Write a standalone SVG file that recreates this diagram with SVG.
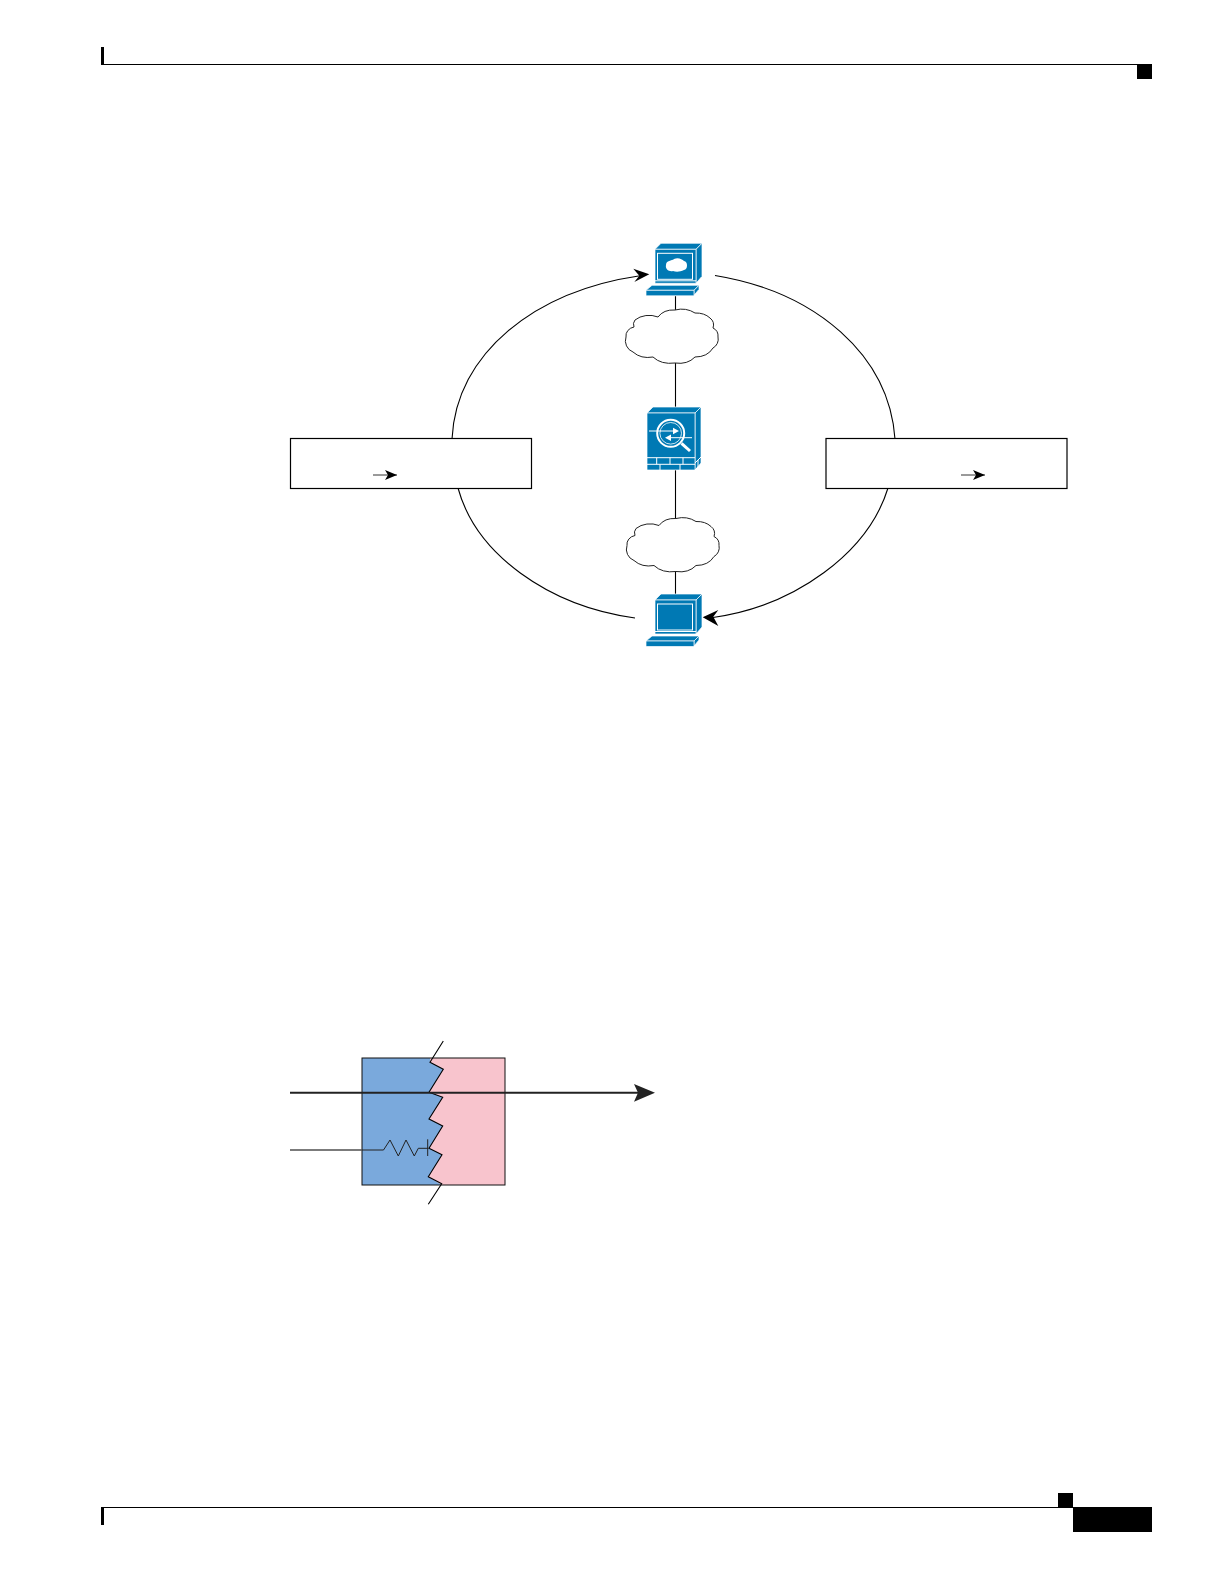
<svg xmlns="http://www.w3.org/2000/svg" width="1222" height="1584" viewBox="0 0 1222 1584">
<style>
.b{fill:#000}
.w{fill:none;stroke:#000;stroke-width:1.100}
.f{fill:#0079b4;stroke:#fff;stroke-width:.7;stroke-linejoin:round}
.l{fill:none;stroke:#fff;stroke-width:1}
.cl{fill:#fff;stroke:#222;stroke-width:1}
.box{fill:#fff;stroke:#000;stroke-width:1.200}
</style>
<defs>
<marker id="small" markerUnits="userSpaceOnUse" markerWidth="14" markerHeight="14" refX="12" refY="7" orient="auto"><path d="M0 2 L12 7 L0 12 L3 7 Z" fill="#000"/></marker>
<g id="pc">
<polygon class="f" points="9,6 15,0 56,0 50,6"/>
<polygon class="f" points="50,6 56,0 56,33 50,40"/>
<rect class="f" x="9" y="6" width="41" height="34"/>
<line class="l" x1="9" y1="37.500" x2="50" y2="37.500"/>
<rect class="l" x="11.500" y="10" width="35" height="26"/>
<polygon class="f" points="0,47 6,42 53,42 48,47"/>
<polygon class="f" points="48,47 53,42 53,46 48,52"/>
<rect class="f" x="0" y="47" width="48" height="5.500"/>
</g>
<path id="cloud" class="cl" d="M9 10 A20 16 0 0 1 32 7 A18 14 0 0 1 49 0 A22 18 0 0 1 69 3 A18 13 0 0 1 84 8 A9 9 0 0 1 87 18 A9 9 0 0 1 92 27 A10 10 0 0 1 87 38 A20 16 0 0 1 69 47 A20 15 0 0 1 49 53 A22 15 0 0 1 27 47 A20 15 0 0 1 7 42 A12 12 0 0 1 0 27 A10 9 0 0 1 8 17 A7 7 0 0 1 9 10 Z"/>
</defs>
<rect width="1222" height="1584" fill="#fff"/>
<g id="page-furniture">
<rect class="b" x="101" y="47" width="3" height="18"/>
<rect class="b" x="101" y="64" width="1036" height="1"/>
<rect class="b" x="1137" y="64" width="15" height="15"/>
<rect class="b" x="101" y="1507" width="972" height="1"/>
<rect class="b" x="101" y="1507" width="3" height="18"/>
<rect class="b" x="1058" y="1493" width="15" height="14"/>
<rect class="b" x="1073" y="1507" width="79" height="25"/>
</g>
<g id="connectors">
<path class="w" d="M452 439 C456 353 535 291 640 275.700"/>
<polygon points="649.300,274.300 633.300,268.800 639.300,275.700 634.300,282" fill="#000"/>
<path class="w" d="M715 275.500 C816 292 889 355 895 439"/>
<path class="w" d="M458 488 C476 554 548 606 635 618"/>
<path class="w" d="M888 488 C868 553 795 606 713 617.500"/>
<polygon points="702.700,617.300 718.300,610 713.300,616.700 718.300,626" fill="#000"/>
<path class="w" d="M675.500 296 V312 M675.500 362 V408 M675.500 470 V519 M675.500 571 V594"/>
</g>
<g id="node-top-computer">
<use href="#pc" x="646" y="243.300"/>
<path fill="#fff" d="M666 265 C666 260 672 261 674 259 C678 257 682 259 684 261 C688 261 688 270 684 270 C680 272 676 272 673 271 C669 272 665 269 666 265 Z"/>
</g>
<use id="cloud-top" href="#cloud" x="626" y="310"/>
<g id="node-firewall">
<polygon class="f" points="647,413 653,407 701,407 695,413"/>
<polygon class="f" points="695,413 701,407 701,463 695,470"/>
<rect class="f" x="647" y="413" width="48" height="57"/>
<path class="l" d="M647 457.700 H695 M647 464.300 H695 M656.700 457.700 V464.300 M670 457.700 V464.300 M683 457.700 V464.300 M660 464.300 V470 M680 464.300 V470 M695 463 L701 457 M695 470 L698 467 M698 460 V467"/>
<circle cx="670.700" cy="433.300" r="13.500" fill="none" stroke="#fff" stroke-width="2"/>
<circle cx="670.700" cy="433.300" r="10.800" fill="none" stroke="#fff" stroke-width=".8"/>
<path d="M681.500 443.300 L690 451" stroke="#fff" stroke-width="3" fill="none"/>
<path d="M649 431 H675 M692 437.700 H668" stroke="#fff" stroke-width="1" fill="none"/>
<path d="M673 427.800 L679 431 L673 434.200 Z M671 434.500 L665 437.700 L671 440.900 Z" fill="#fff"/>
</g>
<use id="cloud-bottom" href="#cloud" x="627" y="518.500"/>
<g id="node-bottom-computer">
<use href="#pc" x="646" y="594"/>
</g>
<g id="node-left-box">
<rect class="box" x="290.500" y="438.500" width="241" height="50"/>
<line x1="373" y1="475" x2="397" y2="475" stroke="#000" stroke-width=".8" marker-end="url(#small)"/>
</g>
<g id="node-right-box">
<rect class="box" x="826" y="438.500" width="241" height="50"/>
<line x1="961" y1="475" x2="985" y2="475" stroke="#000" stroke-width=".8" marker-end="url(#small)"/>
</g>
<g id="node-layers">
<rect x="362" y="1058" width="143" height="127" fill="#7aa9dc"/>
<polygon points="430,1058 505,1058 505,1185 441.700,1185 428.300,1176.700 442,1154.700 429,1148.300 442.700,1126 429,1119 442.700,1097.300 429,1092.300 443.300,1069.300 430,1062.300" fill="#f8c4cd"/>
<rect x="362" y="1058" width="143" height="127" fill="none" stroke="#111" stroke-width="1"/>
<path class="w" d="M443.300 1041 L430 1062.300 L443.300 1069.300 L429 1092.300 L442.700 1097.300 L429 1119 L442.700 1126 L429 1148.300 L442 1154.700 L428.300 1176.700 L441.700 1183.700 L428.300 1204.300"/>
</g>
<g id="layer-connectors">
<line x1="290" y1="1092.700" x2="640" y2="1092.700" stroke="#222" stroke-width="2"/>
<path d="M634 1084 L655 1092.700 L634 1101.700 L638 1092.700 Z" fill="#222"/>
<path d="M290 1150 H383.500 L390 1140 L398.300 1156 L406 1140 L414.300 1156 L418.300 1148.300 H428.300" fill="none" stroke="#222" stroke-width="1"/>
<line x1="290" y1="1150" x2="362" y2="1150" stroke="#666" stroke-width="1.200"/>
<line x1="427.700" y1="1139.300" x2="427.700" y2="1156" stroke="#222" stroke-width="1"/>
</g>
</svg>
